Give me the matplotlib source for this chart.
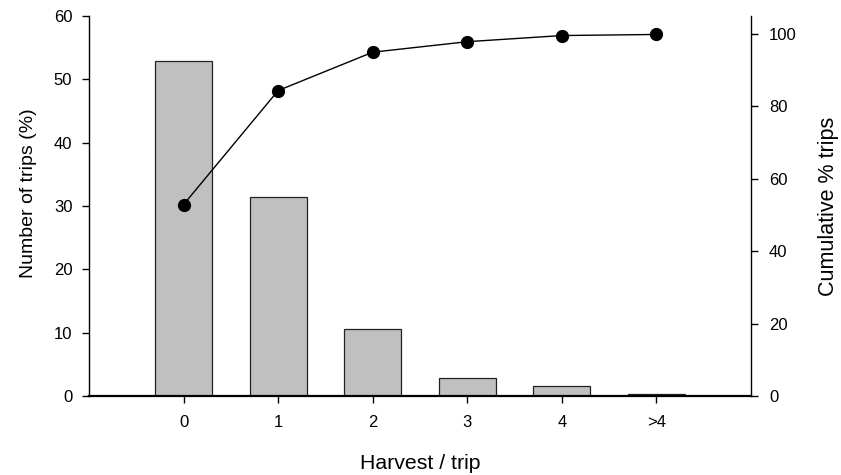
import matplotlib
matplotlib.use("Agg")
import matplotlib.pyplot as plt

plt.rcParams['font.family'] = ['Liberation Sans', 'DejaVu Sans']

categories = ["0", "1", "2", "3", "4", ">4"]
trips_pct = [52.9, 31.5, 10.6, 2.9, 1.6, 0.35]
cumulative_pct = [52.9, 84.4, 95.0, 97.9, 99.6, 99.9]

fig = plt.figure(figsize=(8.41, 4.75), dpi=100)
ax = fig.add_axes([89 / 841, 1 - 396 / 475, (751 - 89) / 841, (396 - 16) / 475])

x = list(range(len(categories)))
ax.bar(x, trips_pct, width=0.6, color="#c0c0c0", edgecolor="#222222", linewidth=0.9, zorder=2)
ax.set_xlim(-1, 6)
ax.set_ylim(0, 60)
ax.set_xticks(x)
ax.set_xticklabels(categories)
ax.set_yticks(range(0, 61, 10))
ax.set_xlabel("Harvest / trip", fontsize=15.3, labelpad=17)
ax.set_ylabel("Number of trips (%)", fontsize=14, labelpad=12)
ax.yaxis.label.set_y(0.534)
for s in ("top", "right"):
    ax.spines[s].set_visible(False)
ax.spines["left"].set_linewidth(1.0)
ax.spines["bottom"].set_linewidth(1.6)
ax.tick_params(axis="both", direction="out", length=5, width=1, labelsize=12, pad=7)
ax.tick_params(axis="x", pad=9)

ax2 = ax.twinx()
ax2.plot(x, cumulative_pct, color="black", linewidth=1, marker="o", markersize=8.5, zorder=3)
ax2.set_ylim(0, 105)
ax2.set_yticks(range(0, 101, 20))
ax2.set_ylabel("Cumulative % trips", fontsize=15.5, labelpad=15)
for s in ("top", "left", "bottom"):
    ax2.spines[s].set_visible(False)
ax2.spines["right"].set_linewidth(1.0)
ax2.tick_params(axis="y", direction="out", length=5, width=1, labelsize=12, pad=8)

fig.savefig("out.png", dpi=100)
